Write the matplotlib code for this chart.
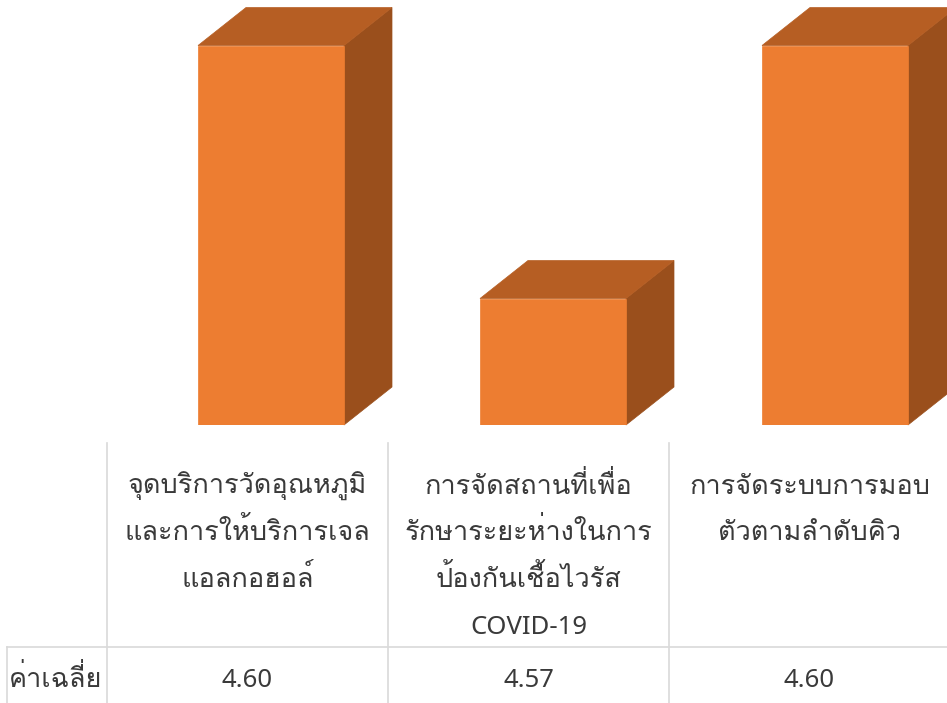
import matplotlib
matplotlib.use("Agg")
import matplotlib.pyplot as plt
import numpy as np

thai_font = ['Loma', 'Noto Sans', 'DejaVu Sans']
num_font = ['Noto Sans', 'DejaVu Sans']

# data
labels = [
    ["จุดบริการวัดอุณหภูมิ", "และการให้บริการเจล", "แอลกอฮอล์"],
    ["การจัดสถานที่เพื่อ", "รักษาระยะห่างในการ", "ป้องกันเชื้อไวรัส", "COVID-19"],
    ["การจัดระบบการมอบ", "ตัวตามลำดับคิว"],
]
values = [4.60, 4.57, 4.60]
row_label = "ค่าเฉลี่ย"
y_min = 4.555

W, H = 947, 703
fig = plt.figure(figsize=(W / 100, H / 100), dpi=100)

front = '#ED7D31'
top_c = '#B65E23'
side_c = '#9A4F1C'
txt = '#3a3a3a'
grid = '#d9d9d9'

# bar axes: top of figure down to the floor at y=425px
ax = fig.add_axes([0, 1 - 425 / H, 1, 425 / H])
px_per_unit = 8433.0
slot = 282.0
x0 = 271.0
ax.set_xlim(-x0 / slot, (W - x0) / slot)
ax.set_ylim(y_min, y_min + 425 / px_per_unit)
ax.axis('off')

x = np.arange(len(values))
bw = 146 / slot
dx = 48 / slot
dy = 38 / px_per_unit

# fake 3d: side and top faces behind the front bar
for xi, v in zip(x, values):
    l, r = xi - bw / 2, xi + bw / 2
    ax.fill([r, r + dx, r + dx, r], [y_min, y_min + dy, v + dy, v],
            facecolor=side_c, edgecolor=side_c, lw=0.5, clip_on=False)
    ax.fill([l, l + dx, r + dx, r], [v, v + dy, v + dy, v],
            facecolor=top_c, edgecolor=top_c, lw=0.5, clip_on=False)
ax.bar(x, np.array(values) - y_min, bottom=y_min, width=bw,
       color=front, edgecolor=front, lw=0.5)

# data table below
def fx(p):
    return p / W

def fy(p):
    return 1 - p / H

cols = [107, 388, 669, 950]
for c in cols:
    fig.add_artist(plt.Line2D([fx(c), fx(c)], [fy(443), 0], color=grid, lw=1.2))
fig.add_artist(plt.Line2D([fx(7), 1], [fy(647), fy(647)], color=grid, lw=1.2))
fig.add_artist(plt.Line2D([fx(7), fx(7)], [fy(647), 0], color=grid, lw=1.2))

baselines = [494, 540.5, 587, 634]
for i, lines in enumerate(labels):
    cx = (cols[i] + cols[i + 1]) / 2
    for j, s in enumerate(lines):
        if s.isascii():
            fig.text(fx(cx), fy(baselines[j]), s, ha='center', va='baseline',
                     fontsize=18.5, color=txt, family=num_font)
        else:
            fig.text(fx(cx), fy(baselines[j]), s, ha='center', va='baseline',
                     fontsize=19.5, color=txt, family=thai_font)
    fig.text(fx(cx), fy(687), "%.2f" % values[i], ha='center', va='baseline',
             fontsize=18.5, color=txt, family=num_font)
fig.text(fx(56), fy(687), row_label, ha='center', va='baseline',
         fontsize=19.5, color=txt, family=thai_font)

fig.savefig("out.png", dpi=100)
